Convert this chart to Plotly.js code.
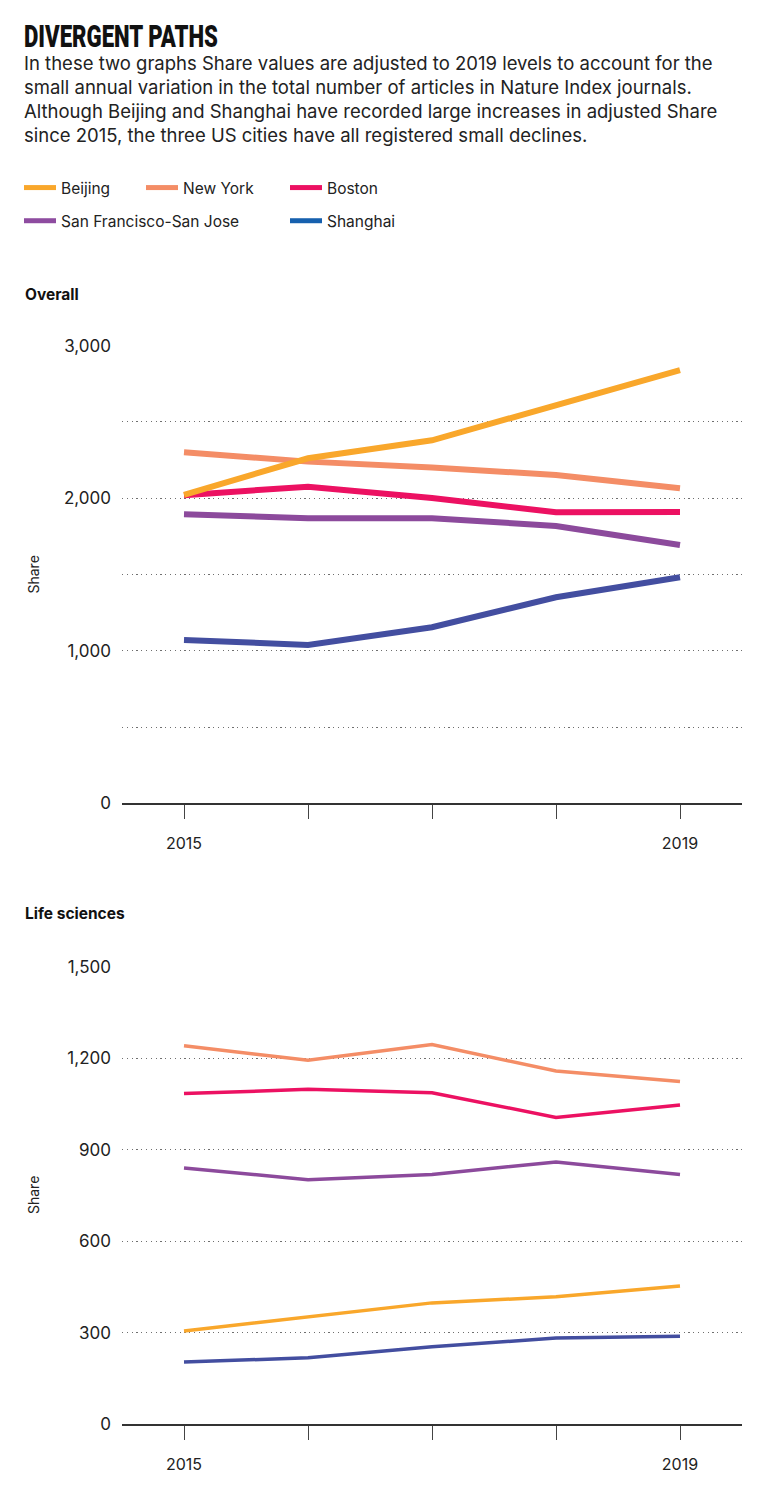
<!DOCTYPE html>
<html>
<head>
<meta charset="utf-8">
<script src="https://cdn.plot.ly/plotly-3.0.1.min.js"></script>
<style>
  html, body { margin: 0; padding: 0; background: #fff; }
  #chart { width: 767px; height: 1490px; }
</style>
</head>
<body>
<div id="chart"></div>
<script>
// ---- Data ----
const years = [2015, 2016, 2017, 2018, 2019];
const xTickText = ['2015', '', '', '', '2019'];

const cities = ['Beijing', 'New York', 'Boston', 'San Francisco-San Jose', 'Shanghai'];

// Overall adjusted Share
const overallBeijing  = [2022, 2262, 2380, 2615, 2840];
const overallNewYork  = [2302, 2240, 2201, 2153, 2066];
const overallBoston   = [2020, 2076, 2002, 1908, 1910];
const overallSF       = [1895, 1869, 1869, 1818, 1693];
const overallShanghai = [1071, 1038, 1154, 1351, 1482];

// Life sciences adjusted Share
const lifeBeijing  = [306, 352, 398, 418, 453];
const lifeNewYork  = [1241, 1193, 1245, 1158, 1124];
const lifeBoston   = [1084, 1098, 1087, 1006, 1047];
const lifeSF       = [840, 802, 819, 860, 819];
const lifeShanghai = [204, 218, 254, 283, 289];

const overallTicks = [0, 1000, 2000, 3000];
const overallMinor = [500, 1500, 2500];
const lifeTicks = [0, 300, 600, 900, 1200, 1500];

// ---- Styles ----
const lineColors = {
  'Beijing': '#F9A72B',
  'New York': '#F48D66',
  'Boston': '#EC1162',
  'San Francisco-San Jose': '#8C4A9C',
  'Shanghai': '#434EA0'
};
const legendColors = {
  'Beijing': '#F9A72B',
  'New York': '#F48D66',
  'Boston': '#EC1162',
  'San Francisco-San Jose': '#8E4CA0',
  'Shanghai': '#1660AE'
};
const FONT = 'Inter, Roboto, "Liberation Sans", Arial, sans-serif';

const overallSeries = {
  'Beijing': overallBeijing, 'New York': overallNewYork, 'Boston': overallBoston,
  'San Francisco-San Jose': overallSF, 'Shanghai': overallShanghai
};
const lifeSeries = {
  'Beijing': lifeBeijing, 'New York': lifeNewYork, 'Boston': lifeBoston,
  'San Francisco-San Jose': lifeSF, 'Shanghai': lifeShanghai
};
const drawOrder = ['Shanghai', 'San Francisco-San Jose', 'Boston', 'New York', 'Beijing'];

const traces = [];
drawOrder.forEach(c => {
  traces.push({
    x: years, y: overallSeries[c], type: 'scatter', mode: 'lines',
    xaxis: 'x', yaxis: 'y', showlegend: false, hoverinfo: 'skip',
    line: { color: lineColors[c], width: 6 }
  });
});
drawOrder.forEach(c => {
  traces.push({
    x: years, y: lifeSeries[c], type: 'scatter', mode: 'lines',
    xaxis: 'x2', yaxis: 'y2', showlegend: false, hoverinfo: 'skip',
    line: { color: lineColors[c], width: 3.5 }
  });
});

// legend-only entries
const legendMap = {
  'Beijing': 'legend', 'San Francisco-San Jose': 'legend',
  'New York': 'legend2',
  'Boston': 'legend3', 'Shanghai': 'legend3'
};
cities.forEach(c => {
  traces.push({
    x: [null], y: [null], type: 'scatter', mode: 'lines', name: c,
    xaxis: 'x', yaxis: 'y', legend: legendMap[c], legendgroup: c,
    line: { color: legendColors[c], width: 5 }
  });
});

const H = 1490, W = 767;
const py = p => 1 - p / H;
const px = p => p / W;

const legendBase = {
  orientation: 'v', traceorder: 'grouped', tracegroupgap: 10,
  font: { family: FONT, size: 15.5, color: '#222' },
  bgcolor: 'rgba(0,0,0,0)', xanchor: 'left', yanchor: 'top', y: py(171),
  itemwidth: 32
};

const xBase = {
  range: [2014.5, 2019.5], tickvals: years, ticktext: xTickText,
  ticks: 'outside', ticklen: 14, tickcolor: '#444', tickwidth: 1,
  showline: true, linecolor: '#333', linewidth: 2,
  showgrid: false, zeroline: false, fixedrange: true,
  tickfont: { family: FONT, size: 16, color: '#222' },
  ticklabelstandoff: 10
};
const GRID = { gridcolor: '#6f6f6f', gridwidth: 1, griddash: '1.2px,3.6px' };
const yBase = Object.assign({
  showgrid: true,
  zeroline: false, ticks: '', showline: false, fixedrange: true,
  tickfont: { family: FONT, size: 17, color: '#222' },
  ticklabelstandoff: 10
}, GRID);

const TITLE_LEFT = 24, TITLE_WIDTH = 194;

const layout = {
  width: W, height: H,
  margin: { l: 0, r: 0, t: 0, b: 0, pad: 0 },
  paper_bgcolor: '#fff', plot_bgcolor: '#fff',
  showlegend: true,
  legend: Object.assign({}, legendBase, { x: px(19) }),
  legend2: Object.assign({}, legendBase, { x: px(141) }),
  legend3: Object.assign({}, legendBase, { x: px(285) }),
  xaxis: Object.assign({}, xBase, { domain: [px(122), px(742)], anchor: 'y' }),
  yaxis: Object.assign({}, yBase, {
    domain: [py(803.3), py(345.7)], anchor: 'x', range: [0, 3000],
    tickvals: overallTicks, tickformat: ',',
    minor: Object.assign({ tickvals: overallMinor, showgrid: true, ticks: '' }, GRID)
  }),
  xaxis2: Object.assign({}, xBase, { domain: [px(122), px(742)], anchor: 'y2' }),
  yaxis2: Object.assign({}, yBase, {
    domain: [py(1424.3), py(966.7)], anchor: 'x2', range: [0, 1500],
    tickvals: lifeTicks, tickformat: ','
  }),
  annotations: [
    { text: 'DIVERGENT PATHS', xref: 'paper', yref: 'paper', x: px(TITLE_LEFT + TITLE_WIDTH / 2), y: py(36),
      xanchor: 'center', yanchor: 'middle', showarrow: false,
      font: { family: 'Roboto, Inter, sans-serif', size: 32, weight: 900, color: '#111' } },
    { text: 'In these two graphs Share values are adjusted to 2019 levels to account for the<br>' +
            'small annual variation in the total number of articles in Nature Index journals.<br>' +
            'Although Beijing and Shanghai have recorded large increases in adjusted Share<br>' +
            'since 2015, the three US cities have all registered small declines.',
      xref: 'paper', yref: 'paper', x: px(22), y: py(50), xanchor: 'left', yanchor: 'top',
      align: 'left', showarrow: false,
      font: { family: FONT, size: 18.5, color: '#222' } },
    { text: '<b>Overall</b>', xref: 'paper', yref: 'paper', x: px(23), y: py(294),
      xanchor: 'left', yanchor: 'middle', showarrow: false,
      font: { family: FONT, size: 15.5, color: '#111' } },
    { text: '<b>Life sciences</b>', xref: 'paper', yref: 'paper', x: px(23), y: py(914),
      xanchor: 'left', yanchor: 'middle', showarrow: false,
      font: { family: FONT, size: 15.5, color: '#111' } },
    { text: 'Share', xref: 'paper', yref: 'paper', x: px(33), y: py(574.5), textangle: -90,
      xanchor: 'center', yanchor: 'middle', showarrow: false,
      font: { family: FONT, size: 14, color: '#222' } },
    { text: 'Share', xref: 'paper', yref: 'paper', x: px(33), y: py(1195), textangle: -90,
      xanchor: 'center', yanchor: 'middle', showarrow: false,
      font: { family: FONT, size: 14, color: '#222' } }
  ]
};

Plotly.newPlot('chart', traces, layout, { displayModeBar: false, staticPlot: true }).then(() => {
  // condense the headline to match the reference's narrow display face
  const t = document.querySelector('#chart .annotation-text');
  if (t) {
    t.setAttribute('textLength', String(TITLE_WIDTH));
    t.setAttribute('lengthAdjust', 'spacingAndGlyphs');
  }
});
</script>
</body>
</html>
